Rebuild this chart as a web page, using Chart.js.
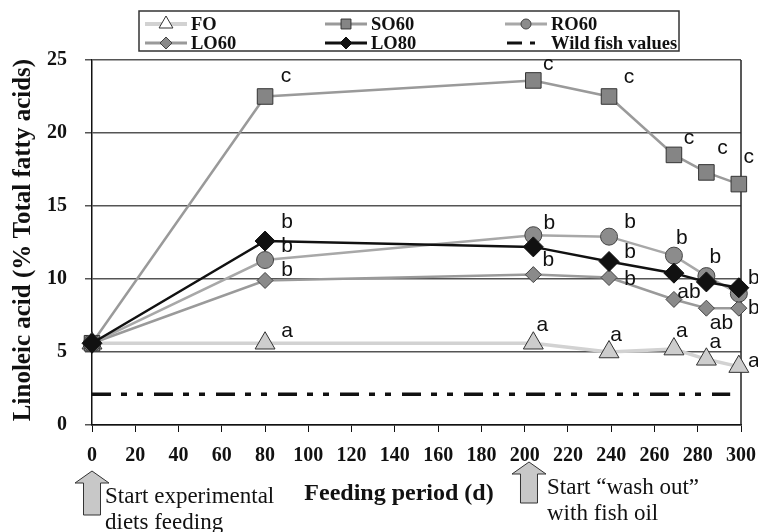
<!DOCTYPE html>
<html>
<head>
<meta charset="utf-8">
<title>Linoleic acid - feeding period</title>
<script src="https://cdn.jsdelivr.net/npm/chart.js@4.4.1/dist/chart.umd.min.js"></script>
<style>
  html, body { margin: 0; padding: 0; background: #fff; }
  #wrap { width: 758px; height: 532px; }
</style>
</head>
<body>
<div id="wrap"><canvas id="linoleicChart" width="758" height="532"></canvas></div>
<script>
// sampling days (x)
const days = [0, 80, 204, 239, 269, 284, 299];

// linoleic acid, % total fatty acids
const foValues   = [5.6, 5.6, 5.6, 5.0, 5.2, 4.5, 4.0];
const so60Values = [5.6, 22.5, 23.6, 22.5, 18.5, 17.3, 16.5];
const ro60Values = [5.6, 11.3, 13.0, 12.9, 11.6, 10.2, 9.0];
const lo60Values = [5.6, 9.9, 10.3, 10.1, 8.6, 8.0, 8.0];
const lo80Values = [5.6, 12.6, 12.2, 11.2, 10.4, 9.8, 9.4];

// wild fish reference level
const wildFishDays = [0, 295];
const wildFishValue = 2.1;

// significance letters
const foLetters   = ['', 'a', 'a', 'a', 'a', 'a', 'a'];
const so60Letters = ['', 'c', 'c', 'c', 'c', 'c', 'c'];
const ro60Letters = ['', 'b', 'b', 'b', 'b', 'b', ''];
const lo60Letters = ['', 'b', 'b', 'b', 'ab', 'ab', 'b'];
const lo80Letters = ['', 'b', '', 'b', '', '', 'b'];

// arrows under the x axis
const arrowDays = [0, 202];
const arrowTexts = [['Start experimental', 'diets feeding'], ['Start \u201cwash out\u201d', 'with fish oil']];

const serif = '"Liberation Serif", "Times New Roman", serif';
const sans = '"Liberation Sans", Arial, sans-serif';

function toPoints(xs, ys) {
    return xs.map((x, i) => ({ x: x, y: ys[i] }));
}

// where each letter sits relative to its marker (px)
const letterOffsets = {
    'FO':   [null, [22, -12], [9, -18], [7, -17], [8, -18], [9, -17], [15, -5]],
    'SO60': [null, [21, -20], [15, -16], [20, -19], [15, -17], [16, -24], [10, -27]],
    'RO60': [null, [22, -14], [16, -12], [21, -14], [8, -17], [9, -19], null],
    'LO60': [null, [22, -10], [15, -14], [21, 2], [15, -7], [15, 15], [15, 0]],
    'LO80': [null, [22, -19], null, [21, -9], null, null, [15, -10]]
};

function drawMarker(ctx, shape, x, y, r) {
    ctx.beginPath();
    if (shape === 'triangle') {
        ctx.moveTo(x, y - r);
        ctx.lineTo(x + r * 0.866, y + r / 2);
        ctx.lineTo(x - r * 0.866, y + r / 2);
        ctx.closePath();
    } else if (shape === 'rect') {
        const s = r * 0.707;
        ctx.rect(x - s, y - s, 2 * s, 2 * s);
    } else if (shape === 'rectRot') {
        ctx.moveTo(x, y - r);
        ctx.lineTo(x + r, y);
        ctx.lineTo(x, y + r);
        ctx.lineTo(x - r, y);
        ctx.closePath();
    } else {
        ctx.arc(x, y, r, 0, Math.PI * 2);
    }
    ctx.fill();
    ctx.stroke();
}

const whiteBg = {
    id: 'whiteBg',
    beforeDraw(chart) {
        const ctx = chart.ctx;
        ctx.save();
        ctx.fillStyle = '#fff';
        ctx.fillRect(0, 0, chart.width, chart.height);
        ctx.restore();
    }
};

// right frame line of the plot
const rightFrame = {
    id: 'rightFrame',
    beforeDatasetsDraw(chart) {
        const { ctx, chartArea } = chart;
        ctx.save();
        ctx.strokeStyle = '#222';
        ctx.lineWidth = 1.5;
        ctx.beginPath();
        ctx.moveTo(chartArea.right, chartArea.top);
        ctx.lineTo(chartArea.right, chartArea.bottom);
        ctx.stroke();
        ctx.restore();
    }
};

// letters next to the markers
const letterLabels = {
    id: 'letterLabels',
    afterDatasetsDraw(chart) {
        const ctx = chart.ctx;
        ctx.save();
        ctx.font = '21px ' + sans;
        ctx.fillStyle = '#111';
        ctx.textAlign = 'center';
        ctx.textBaseline = 'middle';
        chart.data.datasets.forEach((ds, di) => {
            if (!ds.letters) return;
            const meta = chart.getDatasetMeta(di);
            const offs = letterOffsets[ds.label];
            ds.letters.forEach((txt, i) => {
                if (!txt || !offs[i]) return;
                const pt = meta.data[i];
                ctx.fillText(txt, pt.x + offs[i][0], pt.y + offs[i][1]);
            });
        });
        ctx.restore();
    }
};

// boxed legend, 3 columns x 2 rows
const boxLegend = {
    id: 'boxLegend',
    afterDraw(chart) {
        const ctx = chart.ctx;
        const cols = [145, 325, 505];
        const rows = [24, 43];
        ctx.save();
        ctx.strokeStyle = '#333';
        ctx.lineWidth = 1.5;
        ctx.strokeRect(139, 11, 540, 40);
        chart.data.datasets.forEach((ds) => {
            if (ds.legendSlot === undefined) return;
            const x0 = cols[ds.legendSlot % 3];
            const y = rows[Math.floor(ds.legendSlot / 3)];
            ctx.strokeStyle = ds.borderColor;
            ctx.lineWidth = ds.label === 'FO' ? 4 : 3;
            if (ds.pointRadius === 0) {
                ctx.beginPath();
                ctx.moveTo(x0 + 2, y); ctx.lineTo(x0 + 17, y);
                ctx.moveTo(x0 + 25, y); ctx.lineTo(x0 + 30, y);
                ctx.stroke();
            } else {
                ctx.beginPath();
                ctx.moveTo(x0, y);
                ctx.lineTo(x0 + 42, y);
                ctx.stroke();
                ctx.fillStyle = ds.label === 'FO' ? '#fff' : ds.pointBackgroundColor;
                ctx.strokeStyle = ds.pointBorderColor;
                ctx.lineWidth = 1;
                drawMarker(ctx, ds.pointStyle, x0 + 21, y, ds.legendRadius);
            }
            ctx.fillStyle = '#111';
            ctx.font = 'bold 18.5px ' + serif;
            ctx.textAlign = 'left';
            ctx.textBaseline = 'middle';
            ctx.fillText(ds.legendText || ds.label, x0 + 46, y + 1);
        });
        ctx.restore();
    }
};

// axis titles and the two arrows with notes
const annotations = {
    id: 'annotations',
    afterDraw(chart) {
        const ctx = chart.ctx;
        const xScale = chart.scales.x;
        ctx.save();
        ctx.fillStyle = '#111';
        ctx.font = 'bold 24px ' + serif;
        ctx.textAlign = 'center';
        ctx.textBaseline = 'alphabetic';
        ctx.fillText('Feeding period (d)', 399, 500);

        ctx.save();
        ctx.translate(24, 240);
        ctx.rotate(-Math.PI / 2);
        ctx.font = 'bold 25px ' + serif;
        ctx.textBaseline = 'middle';
        ctx.fillText('Linoleic acid (% Total fatty acids)', 0, 0);
        ctx.restore();

        const arrowTops = [471, 462];
        const arrowBottoms = [515, 503];
        const textGaps = [13, 18];
        arrowDays.forEach((d, i) => {
            const cx = xScale.getPixelForValue(d);
            const top = arrowTops[i];
            const bottom = arrowBottoms[i];
            ctx.beginPath();
            ctx.moveTo(cx, top);
            ctx.lineTo(cx + 17, top + 12);
            ctx.lineTo(cx + 8.5, top + 12);
            ctx.lineTo(cx + 8.5, bottom);
            ctx.lineTo(cx - 8.5, bottom);
            ctx.lineTo(cx - 8.5, top + 12);
            ctx.lineTo(cx - 17, top + 12);
            ctx.closePath();
            ctx.fillStyle = '#c8c8c8';
            ctx.fill();
            ctx.strokeStyle = '#333';
            ctx.lineWidth = 1;
            ctx.stroke();

            ctx.fillStyle = '#111';
            ctx.font = '23px ' + serif;
            ctx.textAlign = 'left';
            ctx.fillText(arrowTexts[i][0], cx + textGaps[i], top + 32);
            ctx.fillText(arrowTexts[i][1], cx + textGaps[i], top + 58);
        });
        ctx.restore();
    }
};

const ctx = document.getElementById('linoleicChart').getContext('2d');

new Chart(ctx, {
    type: 'line',
    data: {
        datasets: [
            {
                label: 'LO80', data: toPoints(days, lo80Values), letters: lo80Letters, legendSlot: 4,
                borderColor: '#111', borderWidth: 2.5,
                pointStyle: 'rectRot', pointRadius: 10, legendRadius: 6,
                pointBackgroundColor: '#111', pointBorderColor: '#111', pointBorderWidth: 1,
                order: 1
            },
            {
                label: 'RO60', data: toPoints(days, ro60Values), letters: ro60Letters, legendSlot: 2,
                borderColor: '#a8a8a8', borderWidth: 2.5,
                pointStyle: 'circle', pointRadius: 8.5, legendRadius: 5,
                pointBackgroundColor: '#8c8c8c', pointBorderColor: '#444', pointBorderWidth: 1,
                order: 2
            },
            {
                label: 'LO60', data: toPoints(days, lo60Values), letters: lo60Letters, legendSlot: 3,
                borderColor: '#9a9a9a', borderWidth: 2.5,
                pointStyle: 'rectRot', pointRadius: 8, legendRadius: 6,
                pointBackgroundColor: '#8a8a8a', pointBorderColor: '#444', pointBorderWidth: 1,
                order: 3
            },
            {
                label: 'SO60', data: toPoints(days, so60Values), letters: so60Letters, legendSlot: 1,
                borderColor: '#9a9a9a', borderWidth: 2.5,
                pointStyle: 'rect', pointRadius: 11, legendRadius: 7,
                pointBackgroundColor: '#858585', pointBorderColor: '#333', pointBorderWidth: 1,
                order: 4
            },
            {
                label: 'FO', data: toPoints(days, foValues), letters: foLetters, legendSlot: 0,
                borderColor: '#d2d2d2', borderWidth: 3.5,
                pointStyle: 'triangle', pointRadius: 11.5, legendRadius: 8,
                pointBackgroundColor: '#cdcdcd', pointBorderColor: '#333', pointBorderWidth: 1,
                order: 5
            },
            {
                label: 'Wild fish', legendText: 'Wild fish values', legendSlot: 5,
                data: toPoints(wildFishDays, [wildFishValue, wildFishValue]),
                borderColor: '#111', borderWidth: 3.5,
                borderDash: [19, 10, 6, 10, 6, 11],
                pointRadius: 0,
                order: 6
            }
        ]
    },
    options: {
        responsive: false,
        animation: false,
        clip: false,
        elements: { line: { tension: 0 } },
        layout: { padding: { left: 0, right: 17, top: 60, bottom: 0 } },
        plugins: {
            legend: { display: false },
            tooltip: { enabled: false },
            title: { display: false }
        },
        scales: {
            x: {
                type: 'linear',
                min: 0,
                max: 300,
                afterFit: (scale) => {
                    scale.height = 107;
                    scale.paddingLeft = 0;
                    scale.paddingRight = 0;
                },
                border: { color: '#111', width: 1.5 },
                grid: { drawOnChartArea: false, drawTicks: true, tickLength: 7, color: '#111', lineWidth: 1 },
                ticks: {
                    stepSize: 20,
                    padding: 12,
                    maxRotation: 0,
                    autoSkip: false,
                    color: '#111',
                    font: { family: serif, size: 20, weight: 'bold' }
                }
            },
            y: {
                min: 0,
                max: 25,
                afterFit: (scale) => {
                    scale.width = 92;
                    scale.paddingTop = 0;
                    scale.paddingBottom = 0;
                },
                border: { color: '#111', width: 1.5 },
                grid: { color: '#555', lineWidth: 1.5, tickLength: 7 },
                ticks: {
                    stepSize: 5,
                    padding: 18,
                    color: '#111',
                    font: { family: serif, size: 20, weight: 'bold' }
                }
            }
        }
    },
    plugins: [whiteBg, rightFrame, letterLabels, boxLegend, annotations]
});
</script>
</body>
</html>
